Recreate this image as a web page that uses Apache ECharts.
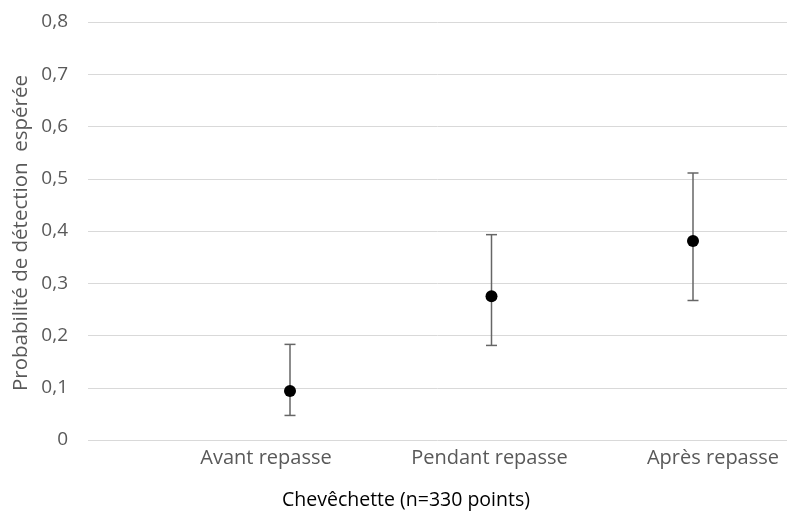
<!DOCTYPE html>
<html>
<head>
<meta charset="utf-8">
<script src="https://cdn.jsdelivr.net/npm/echarts@6/dist/echarts.min.js"></script>
<style>html,body{margin:0;padding:0;background:#fff}#c{width:789px;height:516px}</style>
</head>
<body>
<div id="c"></div>
<script>
var categories = ['Avant repasse', 'Pendant repasse', 'Après repasse'];
var means = [0.094, 0.275, 0.381];
var lower = [0.047, 0.181, 0.267];
var upper = [0.183, 0.393, 0.511];
var yTicks = [0, 0.1, 0.2, 0.3, 0.4, 0.5, 0.6, 0.7, 0.8];
var yTitle = 'Probabilité de détection  espérée';
var xTitle = 'Chevêchette (n=330 points)';

var FONT = '"Open Sans", "Noto Sans", sans-serif';
var chart = echarts.init(document.getElementById('c'), null, {renderer: 'canvas'});

var errData = categories.map(function (c, i) { return [i, lower[i], upper[i]]; });
var gTop = 22, gBottom = 76;

var option = {
  animation: false,
  grid: [
    {left: 88, right: 2, top: gTop, bottom: gBottom},
    {left: 266, right: 76, top: gTop, bottom: gBottom},
    {left: 290, right: 96, top: gTop, bottom: gBottom}
  ],
  xAxis: [
    {gridIndex: 0, type: 'value', min: 0, max: 1, show: false},
    {gridIndex: 1, type: 'category', data: categories, boundaryGap: false,
     axisLine: {show: false}, axisTick: {show: false}, splitLine: {show: false},
     axisLabel: {color: '#595959', fontSize: 20, fontFamily: FONT, margin: 8}},
    {gridIndex: 2, type: 'category', data: categories, boundaryGap: false, show: false}
  ],
  yAxis: [
    {gridIndex: 0, type: 'value', min: yTicks[0], max: yTicks[yTicks.length - 1], interval: 0.1,
     axisLine: {show: false}, axisTick: {show: false},
     splitLine: {lineStyle: {color: '#d9d9d9', width: 1}},
     axisLabel: {color: '#595959', fontSize: 19, fontFamily: FONT, margin: 20,
       formatter: function (v) { return v === 0 ? '0' : v.toFixed(1).replace('.', ','); }}},
    {gridIndex: 1, type: 'value', min: 0, max: 0.8, show: false},
    {gridIndex: 2, type: 'value', min: 0, max: 0.8, show: false}
  ],
  graphic: [
    {type: 'text', x: 21, y: 233, rotation: Math.PI / 2,
     style: {text: yTitle, fill: '#595959', font: '20.5px ' + FONT, align: 'center', verticalAlign: 'middle'}},
    {type: 'text', x: 406, y: 500,
     style: {text: xTitle, fill: '#000000', font: '19.5px ' + FONT, align: 'center', verticalAlign: 'middle'}}
  ],
  series: [
    {
      type: 'custom', xAxisIndex: 2, yAxisIndex: 2, data: errData, z: 2,
      renderItem: function (params, api) {
        var x = api.value(0);
        var lo = api.coord([x, api.value(1)]);
        var hi = api.coord([x, api.value(2)]);
        var hw = 5.5;
        var st = {stroke: '#666666', lineWidth: 1.5};
        return {type: 'group', children: [
          {type: 'line', shape: {x1: lo[0], y1: lo[1], x2: hi[0], y2: hi[1]}, style: st},
          {type: 'line', shape: {x1: hi[0] - hw, y1: hi[1], x2: hi[0] + hw, y2: hi[1]}, style: st},
          {type: 'line', shape: {x1: lo[0] - hw, y1: lo[1], x2: lo[0] + hw, y2: lo[1]}, style: st}
        ]};
      }
    },
    {
      type: 'scatter', xAxisIndex: 2, yAxisIndex: 2, data: means, z: 3,
      symbol: 'circle', symbolSize: 12, itemStyle: {color: '#000000', opacity: 1}
    }
  ]
};
chart.setOption(option);
</script>
</body>
</html>
